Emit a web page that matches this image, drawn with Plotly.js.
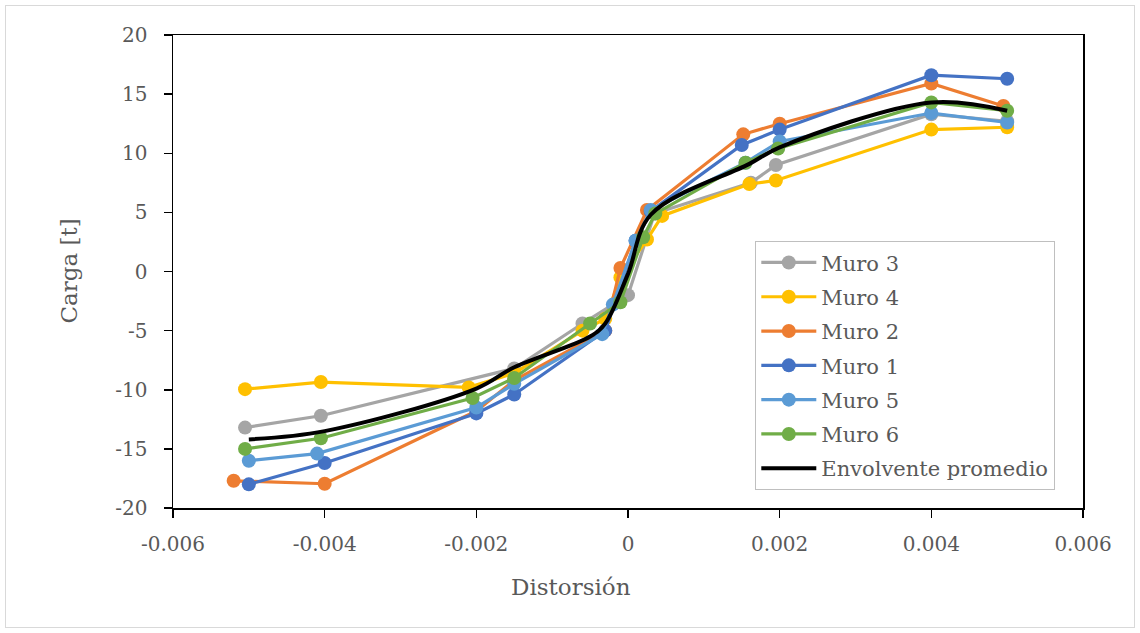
<!DOCTYPE html>
<html>
<head>
<meta charset="utf-8">
<script src="https://cdn.plot.ly/plotly-3.0.1.min.js"></script>
<style>
html,body{margin:0;padding:0;background:#fff;}
#wrap{position:relative;width:1140px;height:633px;}
#chart{width:1140px;height:633px;}
#frame{position:absolute;left:5px;top:5px;width:1128px;height:621px;border:1px solid #d9d9d9;pointer-events:none;}
</style>
</head>
<body>
<div id="wrap"><div id="chart"></div><div id="frame"></div></div>
<script>
// ---- data ----
const muro3X = [-0.00505, -0.00405, -0.0015, -0.0006, 0.0, 0.00035, 0.00162, 0.00195, 0.004, 0.005];
const muro3Y = [-13.2, -12.2, -8.2, -4.4, -2.0, 4.9, 7.5, 9.0, 13.3, 12.7];

const muro4X = [-0.00505, -0.00405, -0.0021, -0.0015, -0.0006, -0.0003, -0.0001, 0.00025, 0.00045, 0.0016, 0.00195, 0.004, 0.005];
const muro4Y = [-9.95, -9.35, -9.8, -8.6, -5.0, -4.0, -0.5, 2.7, 4.7, 7.4, 7.7, 12.0, 12.2];

const muro2X = [-0.0052, -0.004, -0.002, -0.0015, -0.0003, -0.0001, 0.00025, 0.00152, 0.002, 0.004, 0.00495];
const muro2Y = [-17.7, -17.95, -11.8, -9.2, -5.0, 0.3, 5.2, 11.6, 12.5, 15.9, 14.0];

const muro1X = [-0.005, -0.004, -0.002, -0.0015, -0.0003, 0.0001, 0.0003, 0.0015, 0.002, 0.004, 0.005];
const muro1Y = [-18.0, -16.2, -12.0, -10.4, -5.0, 2.6, 5.1, 10.7, 12.0, 16.6, 16.3];

const muro5X = [-0.005, -0.0041, -0.002, -0.0015, -0.00034, -0.0002, 0.0001, 0.0003, 0.00155, 0.002, 0.004, 0.005];
const muro5Y = [-16.0, -15.4, -11.5, -9.5, -5.3, -2.8, 2.6, 5.2, 9.2, 11.0, 13.4, 12.6];

const muro6X = [-0.00505, -0.00405, -0.00205, -0.0015, -0.0005, -0.0001, 0.0002, 0.00036, 0.00155, 0.00198, 0.004, 0.005];
const muro6Y = [-15.0, -14.1, -10.7, -9.0, -4.4, -2.6, 2.9, 4.9, 9.2, 10.4, 14.3, 13.6];

const envX = [-0.005, -0.004, -0.002, -0.0015, -0.0005, -0.0003, 0.0, 0.0003, 0.0016, 0.002, 0.004, 0.005];
const envY = [-14.2, -13.5, -9.9, -8.1, -5.5, -4.4, -0.2, 4.8, 9.1, 10.5, 14.3, 13.6];

const xTickVals = [-0.006, -0.004, -0.002, 0, 0.002, 0.004, 0.006];
const xTickText = ['-0.006', '-0.004', '-0.002', '0', '0.002', '0.004', '0.006'];
const yTickVals = [-20, -15, -10, -5, 0, 5, 10, 15, 20];
const yTickText = ['-20', '-15', '-10', '-5', '0', '5', '10', '15', '20'];

const seriesNames = ['Muro 3', 'Muro 4', 'Muro 2', 'Muro 1', 'Muro 5', 'Muro 6'];
// ---- styles ----
const colors = ['#A5A5A5', '#FFC000', '#ED7D31', '#4472C4', '#5B9BD5', '#70AD47'];
const xs = [muro3X, muro4X, muro2X, muro1X, muro5X, muro6X];
const ys = [muro3Y, muro4Y, muro2Y, muro1Y, muro5Y, muro6Y];

const FONT = '"DejaVu Serif", "Liberation Serif", serif';
const TXT = '#595959';

const traces = seriesNames.map((n, i) => ({
  type: 'scatter', mode: 'lines+markers', name: n, legendgroup: 'g' + i,
  x: xs[i], y: ys[i],
  line: {color: colors[i], width: 3.2},
  marker: {color: colors[i], size: 14}
}));
traces.push({
  type: 'scatter', mode: 'lines', name: 'Envolvente promedio', legendgroup: 'g6',
  x: envX, y: envY,
  line: {color: '#000000', width: 4, shape: 'spline', smoothing: 1}
});

const W = 1140, H = 633, L = 173, R = 57, T = 35, B = 125;
const pw = W - L - R, ph = H - T - B;

const layout = {
  width: W, height: H,
  margin: {l: L, r: R, t: T, b: B, pad: 0},
  paper_bgcolor: '#ffffff', plot_bgcolor: '#ffffff',
  font: {family: FONT, color: TXT, size: 20},
  showlegend: true,
  legend: {
    x: (755 - L) / pw, y: (508 - 241) / ph, xanchor: 'left', yanchor: 'top',
    bgcolor: '#ffffff', bordercolor: '#BFBFBF', borderwidth: 1.3,
    font: {family: FONT, size: 21, color: TXT},
    itemwidth: 55, tracegroupgap: 4
  },
  xaxis: {
    range: [-0.006, 0.006], tickmode: 'array', tickvals: xTickVals, ticktext: xTickText,
    showgrid: false, zeroline: false, showline: true, linecolor: '#000', linewidth: 1.5,
    mirror: true, ticks: 'outside', ticklen: 8, tickcolor: '#000', tickwidth: 1.5,
    ticklabelstandoff: 9,
    tickfont: {family: FONT, size: 20, color: TXT}
  },
  yaxis: {
    range: [-20, 20], tickmode: 'array', tickvals: yTickVals, ticktext: yTickText,
    showgrid: false, zeroline: false, showline: true, linecolor: '#000', linewidth: 1.5,
    mirror: true, ticks: 'outside', ticklen: 8, tickcolor: '#000', tickwidth: 1.5,
    ticklabelstandoff: 12,
    tickfont: {family: FONT, size: 20, color: TXT}
  },
  annotations: [
    {text: 'Distorsión', xref: 'paper', yref: 'paper', x: (571 - L) / pw, y: (508 - 587) / ph,
     xanchor: 'center', yanchor: 'middle', showarrow: false, font: {family: FONT, size: 23, color: TXT}},
    {text: 'Carga [t]', xref: 'paper', yref: 'paper', x: (68 - L) / pw, y: 0.5, textangle: -90,
     xanchor: 'center', yanchor: 'middle', showarrow: false, font: {family: FONT, size: 23, color: TXT}}
  ]
};

Plotly.newPlot('chart', traces, layout, {displayModeBar: false, staticPlot: true});
</script>
</body>
</html>
